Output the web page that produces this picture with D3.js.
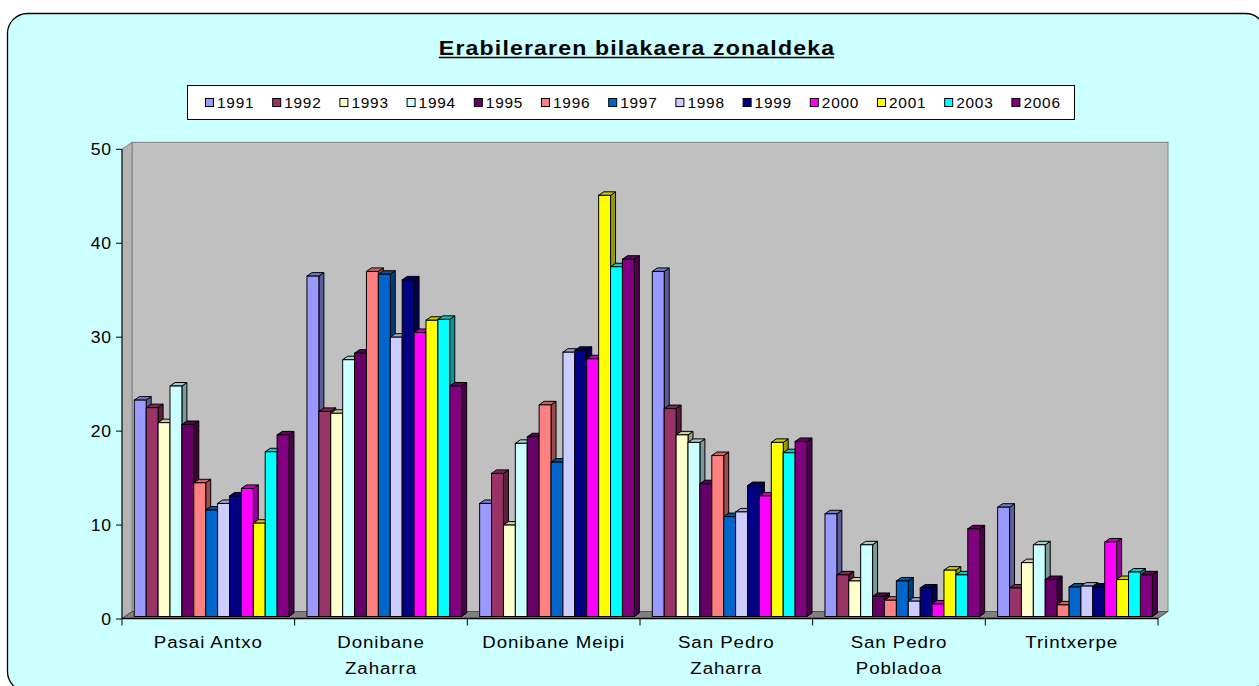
<!DOCTYPE html>
<html><head><meta charset="utf-8">
<script src="https://cdn.jsdelivr.net/npm/d3@7"></script>
<style>html,body{margin:0;padding:0;background:#fff;}svg{display:block;}</style>
</head><body>
<svg id="chart" width="1259" height="686"></svg>
<script>
const title = "Erabileraren bilakaera zonaldeka";
const categories = ["Pasai Antxo","Donibane Zaharra","Donibane Meipi","San Pedro Zaharra","San Pedro Pobladoa","Trintxerpe"];
const years = ["1991","1992","1993","1994","1995","1996","1997","1998","1999","2000","2001","2003","2006"];
const yearColors = ["#9999FF","#993366","#FFFFCC","#CCFFFF","#660066","#FF8080","#0066CC","#CCCCFF","#000080","#FF00FF","#FFFF00","#00FFFF","#800080"];
const yTicks = [0,10,20,30,40,50];
const pasaiAntxo       = [23.3,22.5,20.9,24.8,20.7,14.5,11.6,12.3,13.1,13.9,10.2,17.8,19.6];
const donibaneZaharra  = [36.5,22.1,21.9,27.6,28.3,37.0,36.7,30.0,36.1,30.5,31.8,31.9,24.8];
const donibaneMeipi    = [12.3,15.5,10.0,18.7,19.4,22.8,16.7,28.4,28.6,27.7,45.1,37.5,38.3];
const sanPedroZaharra  = [37.0,22.4,19.6,18.8,14.4,17.4,10.9,11.4,14.2,13.1,18.8,17.7,18.9];
const sanPedroPobladoa = [11.2,4.7,4.05,7.9,2.4,2.0,4.05,1.9,3.3,1.6,5.2,4.7,9.6];
const trintxerpe       = [11.9,3.3,6.0,7.9,4.2,1.5,3.4,3.5,3.4,8.2,4.2,5.0,4.7];
const seriesByCategory = [pasaiAntxo,donibaneZaharra,donibaneMeipi,sanPedroZaharra,sanPedroPobladoa,trintxerpe];

const svg = d3.select("#chart");
const FONT = "Liberation Sans, Arial, sans-serif";
const SX = 1.1;

svg.append("rect").attr("x",7.5).attr("y",13.5).attr("width",1258).attr("height",678)
  .attr("rx",20).attr("ry",20).attr("fill","#CCFFFF").attr("stroke","#000").attr("stroke-width",1.3);

function addText(x,y,str,size,anchor,weight){
  return svg.append("text").attr("transform",`translate(${x},${y}) scale(${SX},1)`)
    .attr("text-anchor",anchor||"start").attr("font-family",FONT).attr("font-size",size)
    .attr("letter-spacing",(size*0.05).toFixed(2))
    .attr("font-weight",weight||"normal").attr("fill","#000").text(str);
}

// title
const tt = addText(637,55,title,21,"middle","bold");
const tw = tt.node().getBBox().width*SX;
svg.append("line").attr("x1",637-tw/2).attr("x2",637+tw/2-1).attr("y1",57.5).attr("y2",57.5)
  .attr("stroke","#000").attr("stroke-width",1.6);

// legend
svg.append("rect").attr("x",187.5).attr("y",85.5).attr("width",887).attr("height",34)
  .attr("fill","#fff").attr("stroke","#000").attr("stroke-width",1);
const lx = d3.scaleBand().domain(years).range([201,201+13*67.2]);
years.forEach((yr,i)=>{
  const x = lx(yr);
  svg.append("rect").attr("x",x+4.5).attr("y",98.5).attr("width",8).attr("height",8)
    .attr("fill",yearColors[i]).attr("stroke","#000").attr("stroke-width",1);
  addText(x+16,107.5,yr,14,"start");
});

// 3D frame
const x0 = 122, x1 = 1158, DX = 10, DY = 7;
const y = d3.scaleLinear().domain([0,50]).range([619,149.3]);
const xCat = d3.scaleBand().domain(categories).range([x0,x1]);
const xYear = d3.scaleBand().domain(years).range([12.3,12.3+154.7]);
const yFront = y(0)-0.5, yTop = y(50);

svg.append("rect").attr("x",x0+DX).attr("y",yTop-DY).attr("width",x1-x0).attr("height",yFront-yTop)
  .attr("fill","#C0C0C0").attr("stroke","#808080").attr("stroke-width",1);
svg.append("polygon").attr("points",[[x0,yTop],[x0+DX,yTop-DY],[x0+DX,yFront-DY],[x0,yFront]].join(" "))
  .attr("fill","#B4B4B4").attr("stroke","#808080").attr("stroke-width",1);
svg.append("polygon").attr("points",[[x0,yFront],[x0+DX,yFront-DY],[x1+DX,yFront-DY],[x1,yFront]].join(" "))
  .attr("fill","#808080").attr("stroke","#555").attr("stroke-width",1);

// bars
const bw = xYear.bandwidth(), bdx = 5, bdy = 3.5;
const yBase = y(0)-2.5;
categories.forEach((cat,ci)=>{
  const vals = seriesByCategory[ci];
  const g = svg.append("g");
  years.forEach((yr,yi)=>{
    const v = vals[yi];
    const xl = xCat(cat)+xYear(yr), xr = xl+bw, yt = y(v);
    const c = d3.rgb(yearColors[yi]);
    const side = d3.rgb(c.r*0.6,c.g*0.6,c.b*0.6);
    const top = d3.rgb(c.r*0.8,c.g*0.8,c.b*0.8);
    g.append("polygon").attr("points",[[xr,yt],[xr+bdx,yt-bdy],[xr+bdx,yBase-bdy],[xr,yBase]].join(" "))
      .attr("fill",side).attr("stroke","#000").attr("stroke-width",1).attr("stroke-linejoin","round");
    g.append("polygon").attr("points",[[xl,yt],[xl+bdx,yt-bdy],[xr+bdx,yt-bdy],[xr,yt]].join(" "))
      .attr("fill",top).attr("stroke","#000").attr("stroke-width",1).attr("stroke-linejoin","round");
    g.append("rect").attr("x",xl).attr("y",yt).attr("width",bw).attr("height",yBase-yt)
      .attr("fill",c).attr("stroke","#000").attr("stroke-width",1);
  });
});

// axes
svg.append("line").attr("x1",x0).attr("x2",x1).attr("y1",yFront).attr("y2",yFront)
  .attr("stroke","#000").attr("stroke-width",1.5);
svg.append("line").attr("x1",x0).attr("x2",x0).attr("y1",yTop).attr("y2",yFront)
  .attr("stroke","#000").attr("stroke-width",1);
yTicks.forEach(t=>{
  svg.append("line").attr("x1",x0-6).attr("x2",x0).attr("y1",y(t)).attr("y2",y(t)).attr("stroke","#000");
  addText(112,y(t)+5.8,String(t),16,"end");
});
const bounds = categories.map(c=>xCat(c)).concat([x1]);
bounds.forEach(b=>{
  svg.append("line").attr("x1",b).attr("x2",b).attr("y1",yFront).attr("y2",yFront+7).attr("stroke","#000");
});
categories.forEach(cat=>{
  const cx = xCat(cat)+xCat.bandwidth()/2;
  const probe = addText(cx,648,cat,17,"middle");
  const w = probe.node().getBBox().width*SX;
  if (w > 158) {
    probe.remove();
    const idx = cat.lastIndexOf(" ");
    addText(cx,648,cat.slice(0,idx),17,"middle");
    addText(cx,674,cat.slice(idx+1),17,"middle");
  }
});
</script>
</body></html>
